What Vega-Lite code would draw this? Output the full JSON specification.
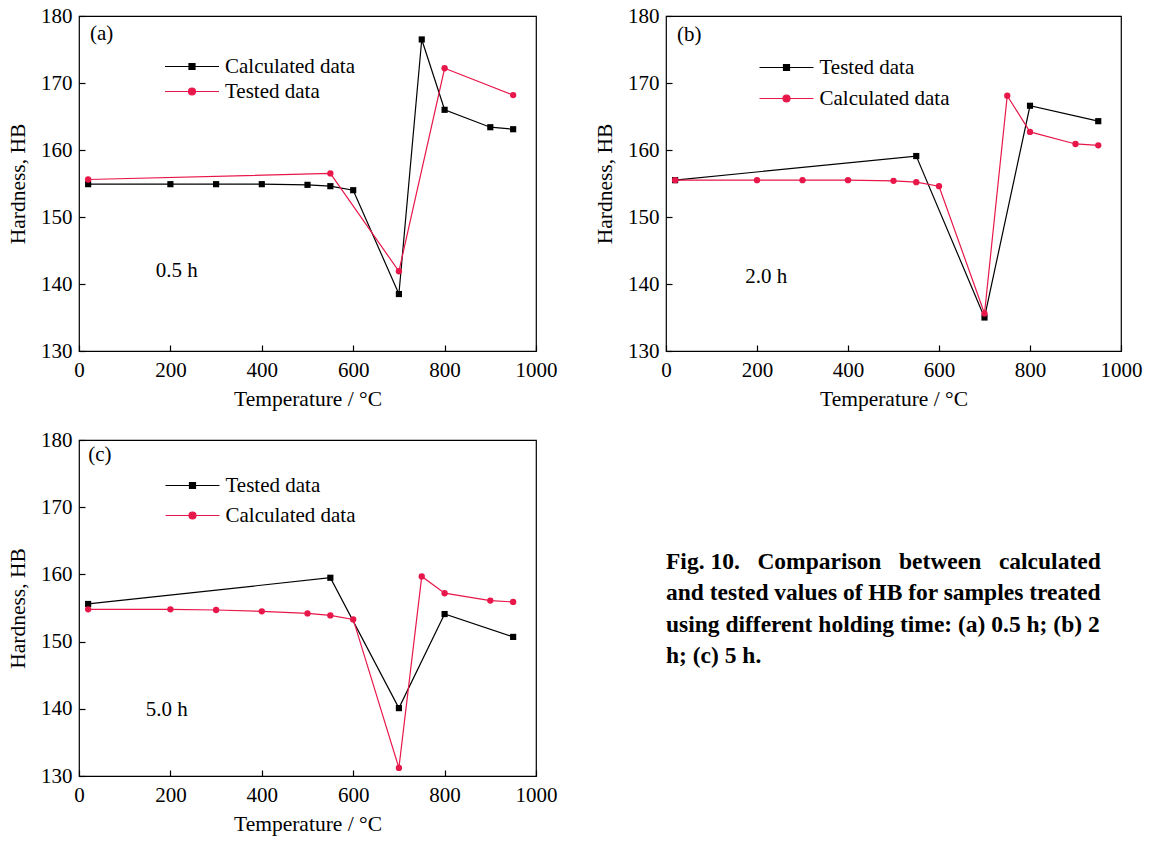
{
  "$schema": "https://vega.github.io/schema/vega-lite/v6.json",
  "padding": {"left": 6, "top": 4, "right": 0, "bottom": 0},
  "background": "#ffffff",
  "columns": 2,
  "bounds": "flush",
  "spacing": {"column": 130, "row": 89},
  "resolve": {"scale": {"color": "independent", "x": "independent", "y": "independent"}, "legend": {"color": "independent"}},
  "config": {
    "font": "Liberation Serif",
    "view": {"stroke": "#000000", "strokeWidth": 1.2},
    "axis": {
      "grid": false, "domain": false, "tickColor": "#000000", "tickSize": -6, "tickWidth": 1.2,
      "labelFontSize": 21, "titleFontSize": 21.5, "labelColor": "#000000", "titleColor": "#000000",
      "titleFontWeight": "normal", "labelFont": "Liberation Serif", "titleFont": "Liberation Serif",
      "labelFlush": false, "labelOverlap": false, "format": "d"
    },
    "axisX": {"labelPadding": 14, "titlePadding": 8},
    "axisY": {"labelPadding": 13, "titlePadding": 11},
    "legend": {"labelFontSize": 21, "labelFont": "Liberation Serif", "labelColor": "#000000", "symbolSize": 100, "labelOffset": 22.5, "padding": 0}
  },
  "datasets": {
    "a": [
      {"T": 20, "HB": 154.9, "series": "Calculated data"},
      {"T": 200, "HB": 154.9, "series": "Calculated data"},
      {"T": 300, "HB": 154.9, "series": "Calculated data"},
      {"T": 400, "HB": 154.9, "series": "Calculated data"},
      {"T": 500, "HB": 154.8, "series": "Calculated data"},
      {"T": 550, "HB": 154.6, "series": "Calculated data"},
      {"T": 600, "HB": 154.0, "series": "Calculated data"},
      {"T": 700, "HB": 138.5, "series": "Calculated data"},
      {"T": 750, "HB": 176.5, "series": "Calculated data"},
      {"T": 800, "HB": 166.0, "series": "Calculated data"},
      {"T": 900, "HB": 163.4, "series": "Calculated data"},
      {"T": 950, "HB": 163.1, "series": "Calculated data"},
      {"T": 20, "HB": 155.6, "series": "Tested data"},
      {"T": 550, "HB": 156.5, "series": "Tested data"},
      {"T": 700, "HB": 141.9, "series": "Tested data"},
      {"T": 800, "HB": 172.2, "series": "Tested data"},
      {"T": 950, "HB": 168.2, "series": "Tested data"}
    ],
    "b": [
      {"T": 20, "HB": 155.5, "series": "Tested data"},
      {"T": 550, "HB": 159.1, "series": "Tested data"},
      {"T": 700, "HB": 135.0, "series": "Tested data"},
      {"T": 800, "HB": 166.6, "series": "Tested data"},
      {"T": 950, "HB": 164.3, "series": "Tested data"},
      {"T": 20, "HB": 155.5, "series": "Calculated data"},
      {"T": 200, "HB": 155.5, "series": "Calculated data"},
      {"T": 300, "HB": 155.5, "series": "Calculated data"},
      {"T": 400, "HB": 155.5, "series": "Calculated data"},
      {"T": 500, "HB": 155.4, "series": "Calculated data"},
      {"T": 550, "HB": 155.2, "series": "Calculated data"},
      {"T": 600, "HB": 154.6, "series": "Calculated data"},
      {"T": 700, "HB": 135.6, "series": "Calculated data"},
      {"T": 750, "HB": 168.1, "series": "Calculated data"},
      {"T": 800, "HB": 162.7, "series": "Calculated data"},
      {"T": 900, "HB": 160.9, "series": "Calculated data"},
      {"T": 950, "HB": 160.7, "series": "Calculated data"}
    ],
    "c": [
      {"T": 20, "HB": 155.6, "series": "Tested data"},
      {"T": 550, "HB": 159.5, "series": "Tested data"},
      {"T": 700, "HB": 140.1, "series": "Tested data"},
      {"T": 800, "HB": 154.1, "series": "Tested data"},
      {"T": 950, "HB": 150.7, "series": "Tested data"},
      {"T": 20, "HB": 154.8, "series": "Calculated data"},
      {"T": 200, "HB": 154.8, "series": "Calculated data"},
      {"T": 300, "HB": 154.7, "series": "Calculated data"},
      {"T": 400, "HB": 154.5, "series": "Calculated data"},
      {"T": 500, "HB": 154.2, "series": "Calculated data"},
      {"T": 550, "HB": 153.9, "series": "Calculated data"},
      {"T": 600, "HB": 153.3, "series": "Calculated data"},
      {"T": 700, "HB": 131.2, "series": "Calculated data"},
      {"T": 750, "HB": 159.7, "series": "Calculated data"},
      {"T": 800, "HB": 157.2, "series": "Calculated data"},
      {"T": 900, "HB": 156.1, "series": "Calculated data"},
      {"T": 950, "HB": 155.9, "series": "Calculated data"}
    ],
    "caption": [
      {"line": 1, "text": "Fig. 10.\u00a0\u00a0 Comparison\u00a0\u00a0 between\u00a0\u00a0 calculated"},
      {"line": 2, "text": "and tested values of HB for samples treated"},
      {"line": 3, "text": "using different holding time: (a) 0.5 h; (b) 2"},
      {"line": 4, "text": "h; (c) 5 h."}
    ]
  },
  "concat": [
    {
      "width": 457, "height": 335,
      "data": {"name": "a"},
      "layer": [
        {
          "mark": {"type": "line", "strokeWidth": 1.2},
          "encoding": {
            "x": {"field": "T", "type": "quantitative", "scale": {"domain": [0, 1000], "nice": false}, "axis": {"values": [0, 200, 400, 600, 800, 1000], "title": "Temperature / °C"}},
            "y": {"field": "HB", "type": "quantitative", "scale": {"domain": [130, 180], "nice": false, "zero": false}, "axis": {"values": [130, 140, 150, 160, 170, 180], "title": "Hardness, HB"}},
            "color": {"field": "series", "type": "nominal", "scale": {"domain": ["Calculated data", "Tested data"], "range": ["#000000", "#e8174a"]},
              "legend": {"orient": "none", "legendX": 102.5, "legendY": 40, "title": null, "rowPadding": 3,
                "encode": {"symbols": {"update": {
                  "shape": {"signal": "datum.value === 'Calculated data' ? 'M-5.4,0H5.4M-0.6,-0.6H0.6V0.6H-0.6Z' : 'M-5.4,0H5.4M0.7,0A0.7,0.7,0,1,1,-0.7,0A0.7,0.7,0,1,1,0.7,0Z'"},
                  "fill": {"signal": "datum.value === 'Calculated data' ? '#000000' : '#e8174a'"},
                  "stroke": {"signal": "datum.value === 'Calculated data' ? '#000000' : '#e8174a'"},
                  "strokeWidth": {"value": 1.2}, "opacity": {"value": 1}}}}}}
          }
        },
        {
          "transform": [{"filter": "datum.series === 'Calculated data'"}],
          "mark": {"type": "point", "shape": "square", "filled": true, "size": 38, "opacity": 1},
          "encoding": {
            "x": {"field": "T", "type": "quantitative"},
            "y": {"field": "HB", "type": "quantitative"},
            "color": {"field": "series", "type": "nominal", "legend": null}
          }
        },
        {
          "transform": [{"filter": "datum.series === 'Tested data'"}],
          "mark": {"type": "point", "shape": "circle", "filled": true, "size": 40, "opacity": 1},
          "encoding": {
            "x": {"field": "T", "type": "quantitative"},
            "y": {"field": "HB", "type": "quantitative"},
            "color": {"field": "series", "type": "nominal", "legend": null}
          }
        },
        {
          "data": {"values": [{}]},
          "mark": {"type": "text", "align": "left", "baseline": "middle", "fontSize": 21, "color": "#000000"},
          "encoding": {"x": {"datum": 24}, "y": {"datum": 177.3}, "text": {"value": "(a)"}}
        },
        {
          "data": {"values": [{}]},
          "mark": {"type": "text", "align": "left", "baseline": "middle", "fontSize": 21, "color": "#000000"},
          "encoding": {"x": {"datum": 168}, "y": {"datum": 142}, "text": {"value": "0.5 h"}}
        }
      ]
    },
    {
      "width": 455, "height": 335,
      "data": {"name": "b"},
      "layer": [
        {
          "mark": {"type": "line", "strokeWidth": 1.2},
          "encoding": {
            "x": {"field": "T", "type": "quantitative", "scale": {"domain": [0, 1000], "nice": false}, "axis": {"values": [0, 200, 400, 600, 800, 1000], "title": "Temperature / °C"}},
            "y": {"field": "HB", "type": "quantitative", "scale": {"domain": [130, 180], "nice": false, "zero": false}, "axis": {"values": [130, 140, 150, 160, 170, 180], "title": "Hardness, HB"}},
            "color": {"field": "series", "type": "nominal", "scale": {"domain": ["Tested data", "Calculated data"], "range": ["#000000", "#e8174a"]},
              "legend": {"orient": "none", "legendX": 110, "legendY": 41, "title": null, "rowPadding": 9,
                "encode": {"symbols": {"update": {
                  "shape": {"signal": "datum.value === 'Tested data' ? 'M-5.4,0H5.4M-0.6,-0.6H0.6V0.6H-0.6Z' : 'M-5.4,0H5.4M0.7,0A0.7,0.7,0,1,1,-0.7,0A0.7,0.7,0,1,1,0.7,0Z'"},
                  "fill": {"signal": "datum.value === 'Tested data' ? '#000000' : '#e8174a'"},
                  "stroke": {"signal": "datum.value === 'Tested data' ? '#000000' : '#e8174a'"},
                  "strokeWidth": {"value": 1.2}, "opacity": {"value": 1}}}}}}
          }
        },
        {
          "transform": [{"filter": "datum.series === 'Tested data'"}],
          "mark": {"type": "point", "shape": "square", "filled": true, "size": 38, "opacity": 1},
          "encoding": {
            "x": {"field": "T", "type": "quantitative"},
            "y": {"field": "HB", "type": "quantitative"},
            "color": {"field": "series", "type": "nominal", "legend": null}
          }
        },
        {
          "transform": [{"filter": "datum.series === 'Calculated data'"}],
          "mark": {"type": "point", "shape": "circle", "filled": true, "size": 40, "opacity": 1},
          "encoding": {
            "x": {"field": "T", "type": "quantitative"},
            "y": {"field": "HB", "type": "quantitative"},
            "color": {"field": "series", "type": "nominal", "legend": null}
          }
        },
        {
          "data": {"values": [{}]},
          "mark": {"type": "text", "align": "left", "baseline": "middle", "fontSize": 21, "color": "#000000"},
          "encoding": {"x": {"datum": 24}, "y": {"datum": 177.2}, "text": {"value": "(b)"}}
        },
        {
          "data": {"values": [{}]},
          "mark": {"type": "text", "align": "left", "baseline": "middle", "fontSize": 21, "color": "#000000"},
          "encoding": {"x": {"datum": 174}, "y": {"datum": 141}, "text": {"value": "2.0 h"}}
        }
      ]
    },
    {
      "width": 457, "height": 336,
      "data": {"name": "c"},
      "layer": [
        {
          "mark": {"type": "line", "strokeWidth": 1.2},
          "encoding": {
            "x": {"field": "T", "type": "quantitative", "scale": {"domain": [0, 1000], "nice": false}, "axis": {"values": [0, 200, 400, 600, 800, 1000], "title": "Temperature / °C"}},
            "y": {"field": "HB", "type": "quantitative", "scale": {"domain": [130, 180], "nice": false, "zero": false}, "axis": {"values": [130, 140, 150, 160, 170, 180], "title": "Hardness, HB"}},
            "color": {"field": "series", "type": "nominal", "scale": {"domain": ["Tested data", "Calculated data"], "range": ["#000000", "#e8174a"]},
              "legend": {"orient": "none", "legendX": 103, "legendY": 35, "title": null, "rowPadding": 8,
                "encode": {"symbols": {"update": {
                  "shape": {"signal": "datum.value === 'Tested data' ? 'M-5.4,0H5.4M-0.6,-0.6H0.6V0.6H-0.6Z' : 'M-5.4,0H5.4M0.7,0A0.7,0.7,0,1,1,-0.7,0A0.7,0.7,0,1,1,0.7,0Z'"},
                  "fill": {"signal": "datum.value === 'Tested data' ? '#000000' : '#e8174a'"},
                  "stroke": {"signal": "datum.value === 'Tested data' ? '#000000' : '#e8174a'"},
                  "strokeWidth": {"value": 1.2}, "opacity": {"value": 1}}}}}}
          }
        },
        {
          "transform": [{"filter": "datum.series === 'Tested data'"}],
          "mark": {"type": "point", "shape": "square", "filled": true, "size": 38, "opacity": 1},
          "encoding": {
            "x": {"field": "T", "type": "quantitative"},
            "y": {"field": "HB", "type": "quantitative"},
            "color": {"field": "series", "type": "nominal", "legend": null}
          }
        },
        {
          "transform": [{"filter": "datum.series === 'Calculated data'"}],
          "mark": {"type": "point", "shape": "circle", "filled": true, "size": 40, "opacity": 1},
          "encoding": {
            "x": {"field": "T", "type": "quantitative"},
            "y": {"field": "HB", "type": "quantitative"},
            "color": {"field": "series", "type": "nominal", "legend": null}
          }
        },
        {
          "data": {"values": [{}]},
          "mark": {"type": "text", "align": "left", "baseline": "middle", "fontSize": 21, "color": "#000000"},
          "encoding": {"x": {"datum": 20}, "y": {"datum": 177.7}, "text": {"value": "(c)"}}
        },
        {
          "data": {"values": [{}]},
          "mark": {"type": "text", "align": "left", "baseline": "middle", "fontSize": 21, "color": "#000000"},
          "encoding": {"x": {"datum": 146}, "y": {"datum": 139.8}, "text": {"value": "5.0 h"}}
        }
      ]
    },
    {
      "width": 455, "height": 336,
      "view": {"stroke": null},
      "data": {"name": "caption"},
      "mark": {"type": "text", "align": "left", "baseline": "middle", "fontSize": 23.5, "fontWeight": "bold", "font": "Liberation Serif", "color": "#000000"},
      "encoding": {
        "x": {"datum": 0, "scale": {"domain": [0, 1]}, "axis": null},
        "y": {"field": "line", "type": "quantitative", "scale": {"domain": [-2.9, 7.83], "reverse": true, "nice": false, "zero": false}, "axis": null},
        "text": {"field": "text"}
      }
    }
  ]
}
